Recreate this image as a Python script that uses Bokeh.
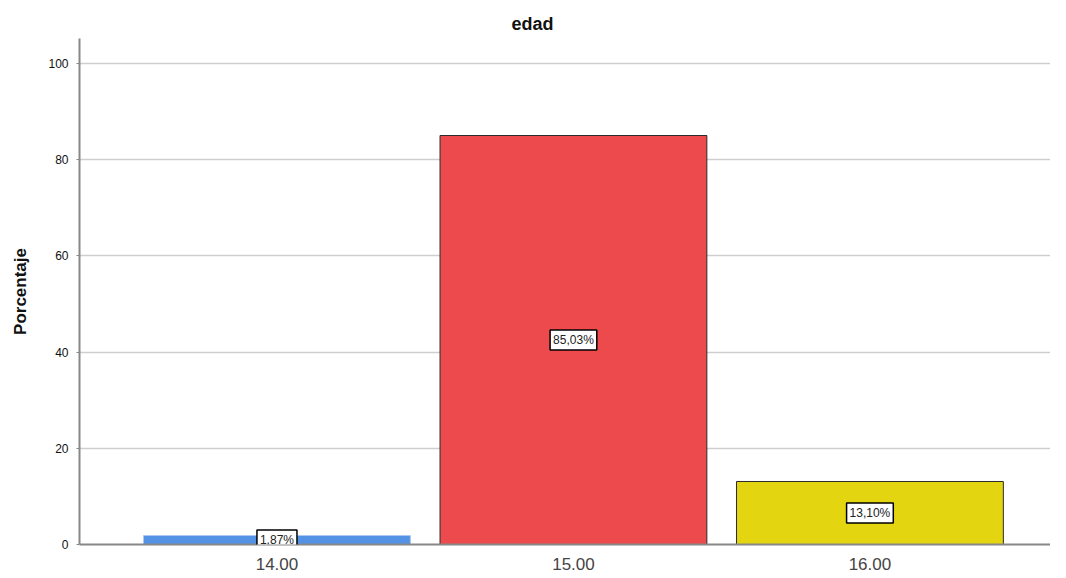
from bokeh.plotting import figure
from bokeh.models import ColumnDataSource, Range1d, FixedTicker, Label
from bokeh.embed import file_html
from bokeh.resources import INLINE

categories = ["14.00", "15.00", "16.00"]
percentages = [1.87, 85.03, 13.10]
pct_labels = ["1,87%", "85,03%", "13,10%"]
fill_colors = ["#5392e4", "#ec4a4c", "#e3d510"]
line_colors = ["#a9c9f2", "#2b2b2b", "#2b2b2b"]
y_ticks = [0, 20, 40, 60, 80, 100]

xs = list(range(len(categories)))
src = ColumnDataSource(dict(
    x=xs, top=percentages, fill=fill_colors, line=line_colors,
))

p = figure(width=1050, height=572, output_backend="svg", toolbar_location=None,
           x_range=Range1d(-0.666, 2.609), y_range=Range1d(0, 105.2),
           min_border_left=79, min_border_right=0, min_border_top=38, min_border_bottom=26)

p.vbar(x="x", top="top", width=0.9, source=src, fill_color="fill",
       line_color="line", line_width=1)

for xi, v, txt in zip(xs, percentages, pct_labels):
    p.add_layout(Label(x=xi, y=v / 2, text=txt, text_align="center",
                       text_baseline="middle", text_font_size="12px",
                       text_color="#222222", text_font="Liberation Sans",
                       background_fill_color="white", border_line_color="black",
                       border_line_width=1.5, padding=3, level="overlay"))

p.title.text = "edad"
p.title.align = "left"
p.title.offset = 432
p.title.text_font = "Liberation Sans"
p.title.text_font_size = "18px"
p.title.text_font_style = "bold"
p.title.text_color = "#111111"
p.title.standoff = 10

p.xaxis.ticker = FixedTicker(ticks=xs)
p.xaxis.major_label_overrides = {i: c for i, c in zip(xs, categories)}
p.xaxis.major_label_text_font = "Liberation Sans"
p.xaxis.major_label_text_font_size = "17px"
p.xaxis.major_label_text_color = "#444444"
p.xaxis.major_label_standoff = 7
p.xaxis.major_tick_line_color = None
p.xaxis.minor_tick_line_color = None
p.xaxis.axis_line_color = "#888888"
p.xaxis.axis_line_width = 2

p.yaxis.ticker = FixedTicker(ticks=y_ticks)
p.yaxis.axis_label = "Porcentaje"
p.yaxis.axis_label_text_font = "Liberation Sans"
p.yaxis.axis_label_text_font_size = "17px"
p.yaxis.axis_label_text_font_style = "bold"
p.yaxis.axis_label_text_color = "#111111"
p.yaxis.axis_label_standoff = 15
p.yaxis.major_label_text_font = "Liberation Sans"
p.yaxis.major_label_text_font_size = "12px"
p.yaxis.major_label_text_color = "#111111"
p.yaxis.major_label_standoff = 8
p.yaxis.major_tick_out = 3
p.yaxis.major_tick_in = 0
p.yaxis.major_tick_line_color = "#888888"
p.yaxis.minor_tick_line_color = None
p.yaxis.axis_line_color = "#888888"
p.yaxis.axis_line_width = 2

p.xgrid.grid_line_color = None
p.ygrid.grid_line_color = "#cfcfcf"
p.ygrid.grid_line_width = 1.5
p.outline_line_color = None
p.background_fill_color = "white"
p.border_fill_color = "white"

with open("out.html", "w") as f:
    f.write(file_html(p, INLINE))
